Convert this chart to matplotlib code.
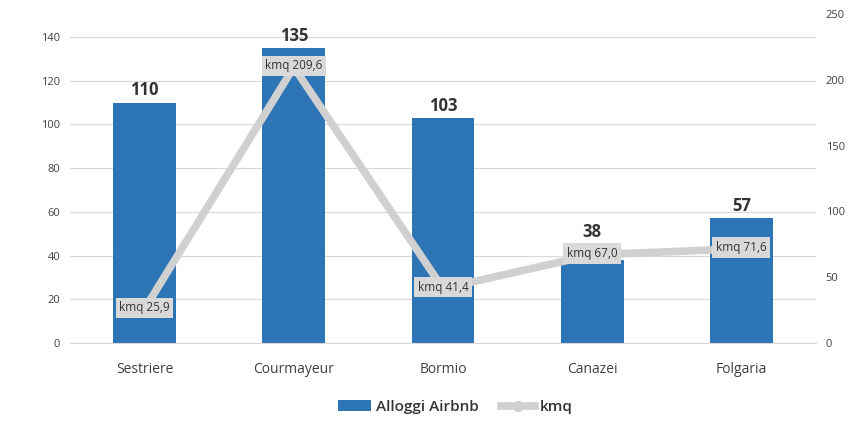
import matplotlib
matplotlib.use("Agg")
import matplotlib.pyplot as plt
import numpy as np
from matplotlib.patches import Patch
from matplotlib.lines import Line2D

categories = ["Sestriere", "Courmayeur", "Bormio", "Canazei", "Folgaria"]
alloggi = [110, 135, 103, 38, 57]
kmq = [25.9, 209.6, 41.4, 67.0, 71.6]
kmq_labels = ["kmq 25,9", "kmq 209,6", "kmq 41,4", "kmq 67,0", "kmq 71,6"]
left_ticks = [0, 20, 40, 60, 80, 100, 120, 140]
right_ticks = [0, 50, 100, 150, 200, 250]

plt.rcParams['font.family'] = ['Open Sans', 'DejaVu Sans']

bar_color = "#2E75B6"
line_color = "#D0D0D0"
text_color = "#404040"

fig = plt.figure(figsize=(8.68, 4.25), dpi=100)
ax = fig.add_axes([70/868, 1 - 343/425, (816-70)/868, (343-14)/425])
ax2 = ax.twinx()

LEFT_MAX = 150.5
RIGHT_MAX = 250

x = np.arange(len(categories))
ax.bar(x, alloggi, width=0.42, color=bar_color, zorder=2)
ax.set_xlim(-0.5, len(categories) - 0.5)
ax.set_ylim(0, LEFT_MAX)
ax.set_yticks(left_ticks)
ax.yaxis.grid(True, color="#D9D9D9", linewidth=0.9, zorder=0)
ax.set_axisbelow(True)
for s in ax.spines.values():
    s.set_visible(False)
for s in ax2.spines.values():
    s.set_visible(False)
ax.spines['bottom'].set_visible(True)
ax.spines['bottom'].set_color("#D9D9D9")
ax.tick_params(axis='both', length=0, colors=text_color)
ax.tick_params(axis='y', labelsize=8, pad=7)
ax.set_xticks(x)
ax.set_xticklabels(categories, fontsize=10, color=text_color)
ax.tick_params(axis='x', pad=14)

# value labels above bars; lifted above the kmq label box if they would collide
for xi, v, k in zip(x, alloggi, kmq):
    k_left = k / RIGHT_MAX * LEFT_MAX
    box_top = k_left + 6.5
    y = v + 1.5
    if abs(k_left - v) < 8:
        y = max(y, box_top)
    ax.text(xi, y, str(v), ha='center', va='bottom', fontsize=12,
            fontweight='bold', color="#333333")

ax2.set_ylim(0, RIGHT_MAX)
ax2.set_yticks(right_ticks)
ax2.tick_params(axis='y', length=0, labelsize=8, colors=text_color, pad=7)
ax2.plot(x, kmq, color=line_color, linewidth=5.5, marker='o', markersize=7,
         solid_capstyle='round', zorder=3)
for xi, v, lab in zip(x, kmq, kmq_labels):
    ax2.text(xi, v + 1, lab, ha='center', va='center', fontsize=8.5, color="#333333",
             bbox=dict(boxstyle='square,pad=0.3', facecolor="#D9D9D9", edgecolor='none'),
             zorder=5)

handles = [Patch(facecolor=bar_color, edgecolor='none', label="Alloggi Airbnb"),
           Line2D([0], [0], color=line_color, linewidth=5.5, marker='o', markersize=7,
                  label="kmq")]
fig.legend(handles=handles, loc='center', bbox_to_anchor=(455/868, 1 - 407/425),
           ncol=2, frameon=False, fontsize=11, handlelength=2.2, columnspacing=1.5,
           labelcolor="#333333", handletextpad=0.3, prop={'weight': 'semibold', 'size': 11})

fig.savefig("out.png", dpi=100, facecolor='white')
